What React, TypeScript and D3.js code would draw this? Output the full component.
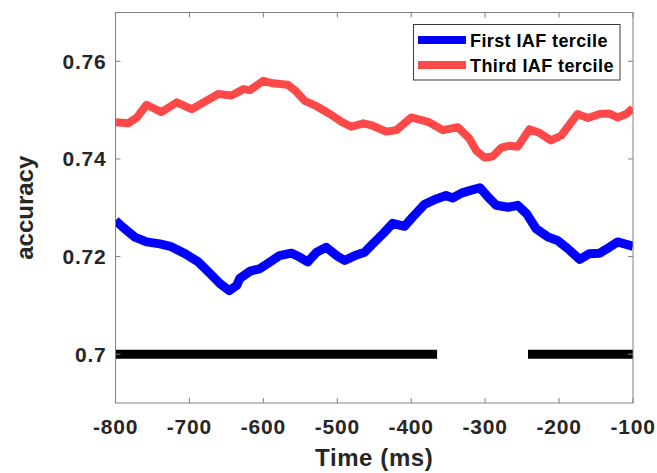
import React from 'react';
import * as d3 from 'd3';

// time (ms) and accuracy for each tercile
const firstTime = [-800, -790, -774, -758, -740, -726, -706, -688, -672, -659, -646, -636, -632, -618, -605, -591, -578, -562, -551, -540, -528, -515, -501, -490, -476, -463, -452, -438, -425, -409, -398, -382, -366, -353, -344, -332, -321, -307, -296, -285, -269, -256, -244, -231, -215, -202, -188, -172, -159, -145, -132, -121, -109, -100];
const firstAcc = [0.7274, 0.7260, 0.7240, 0.7230, 0.7226, 0.7221, 0.7206, 0.7189, 0.7165, 0.7145, 0.7130, 0.7141, 0.7155, 0.7170, 0.7175, 0.7189, 0.7202, 0.7207, 0.7199, 0.7189, 0.7209, 0.7219, 0.7202, 0.7192, 0.7202, 0.7209, 0.7226, 0.7247, 0.7268, 0.7262, 0.7281, 0.7307, 0.7318, 0.7325, 0.7320, 0.7330, 0.7335, 0.7341, 0.7322, 0.7305, 0.7301, 0.7305, 0.7288, 0.7257, 0.7240, 0.7233, 0.7216, 0.7194, 0.7206, 0.7207, 0.7219, 0.7230, 0.7225, 0.7221];

const thirdTime = [-800, -783, -771, -758, -738, -717, -697, -677, -661, -643, -627, -618, -600, -587, -567, -557, -544, -528, -510, -494, -481, -465, -452, -434, -420, -400, -377, -357, -337, -321, -312, -301, -290, -278, -267, -256, -240, -226, -211, -197, -175, -161, -145, -132, -121, -109, -100];
const thirdAcc = [0.7475, 0.7473, 0.7485, 0.7511, 0.7496, 0.7516, 0.7502, 0.7519, 0.7533, 0.7530, 0.7543, 0.7541, 0.7560, 0.7555, 0.7552, 0.7540, 0.7519, 0.7508, 0.7492, 0.7476, 0.7466, 0.7473, 0.7468, 0.7456, 0.7459, 0.7485, 0.7476, 0.7459, 0.7465, 0.7441, 0.7417, 0.7403, 0.7405, 0.7423, 0.7427, 0.7425, 0.7461, 0.7453, 0.7438, 0.7448, 0.7492, 0.7484, 0.7492, 0.7493, 0.7485, 0.7492, 0.7504];

// significance bars at y = 0.7
const sigStart = [-800, -242];
const sigEnd = [-365, -100];
const sigLevel = 0.7;

const xTicks = [-800, -700, -600, -500, -400, -300, -200, -100];
const yTicks = [0.7, 0.72, 0.74, 0.76];

const seriesNames = ['First IAF tercile', 'Third IAF tercile'];
const seriesColors = ['#0000ff', '#ff4848'];

const W = 657;
const H = 473;
const left = 115.5;
const right = 633;
const top = 12.5;
const bottom = 403;

export default function App() {
    const x = d3.scaleLinear().domain([-800, -100]).range([left, right]);
    const y = d3.scaleLinear().domain([0.69, 0.77]).range([bottom, top]);

    const line = d3.line<[number, number]>()
        .x(d => x(d[0]))
        .y(d => y(d[1]));

    const first = firstTime.map((t, i) => [t, firstAcc[i]] as [number, number]);
    const third = thirdTime.map((t, i) => [t, thirdAcc[i]] as [number, number]);

    const font = '"Liberation Sans", Arial, sans-serif';
    const axisCol = '#808080';
    const textCol = '#262626';
    const tickLen = 5;

    return (
        <svg width={W} height={H} style={{position: 'absolute', left: 0, top: 0}} fontFamily={font}>
            <defs>
                <clipPath id="plot">
                    <rect x={left} y={top} width={right - left} height={bottom - top} />
                </clipPath>
            </defs>
            <rect x={0} y={0} width={W} height={H} fill="#fff" />

            <g clipPath="url(#plot)" fill="none" strokeLinejoin="round">
                {sigStart.map((s, i) => (
                    <line key={i} x1={x(s)} x2={x(sigEnd[i])} y1={y(sigLevel)} y2={y(sigLevel)}
                          stroke="#000" strokeWidth={9} />
                ))}
                <path d={line(third) || ''} stroke={seriesColors[1]} strokeWidth={8} />
                <path d={line(first) || ''} stroke={seriesColors[0]} strokeWidth={9} />
            </g>

            {/* box and ticks */}
            <rect x={left} y={top} width={right - left} height={bottom - top} fill="none" stroke={axisCol} strokeWidth={1} />
            {xTicks.map(t => (
                <g key={'x' + t}>
                    <line x1={x(t)} x2={x(t)} y1={bottom} y2={bottom - tickLen} stroke={axisCol} />
                    <line x1={x(t)} x2={x(t)} y1={top} y2={top + tickLen} stroke={axisCol} />
                    <text x={x(t)} y={bottom + 31} textAnchor="middle" fontSize={21} fontWeight="bold"
                          fill={textCol} letterSpacing={0.8}>{t}</text>
                </g>
            ))}
            {yTicks.map(t => (
                <g key={'y' + t}>
                    <line x1={left} x2={left + tickLen} y1={y(t)} y2={y(t)} stroke={axisCol} />
                    <line x1={right} x2={right - tickLen} y1={y(t)} y2={y(t)} stroke={axisCol} />
                    <text x={left - 9} y={y(t) + 7.5} textAnchor="end" fontSize={21} fontWeight="bold"
                          fill={textCol} letterSpacing={0.8}>{t}</text>
                </g>
            ))}

            <text x={(left + right) / 2} y={466} textAnchor="middle" fontSize={24} fontWeight="bold"
                  fill={textCol} letterSpacing={0.6}>
                Time (ms)
            </text>
            <text transform={`translate(33,${(top + bottom) / 2}) rotate(-90)`} textAnchor="middle"
                  fontSize={24} fontWeight="bold" fill={textCol}>
                accuracy
            </text>

            {/* legend */}
            <rect x={413.5} y={24.5} width={206.5} height={55.5} fill="#fff" stroke="#3a3a3a" strokeWidth={1} />
            {seriesNames.map((n, i) => (
                <g key={n}>
                    <line x1={418} x2={466} y1={40 + i * 25} y2={40 + i * 25} stroke={seriesColors[i]} strokeWidth={8} />
                    <text x={470} y={46.5 + i * 25} fontSize={18} fontWeight="bold" fill="#000"
                          letterSpacing={0.4}>{n}</text>
                </g>
            ))}
        </svg>
    );
}
